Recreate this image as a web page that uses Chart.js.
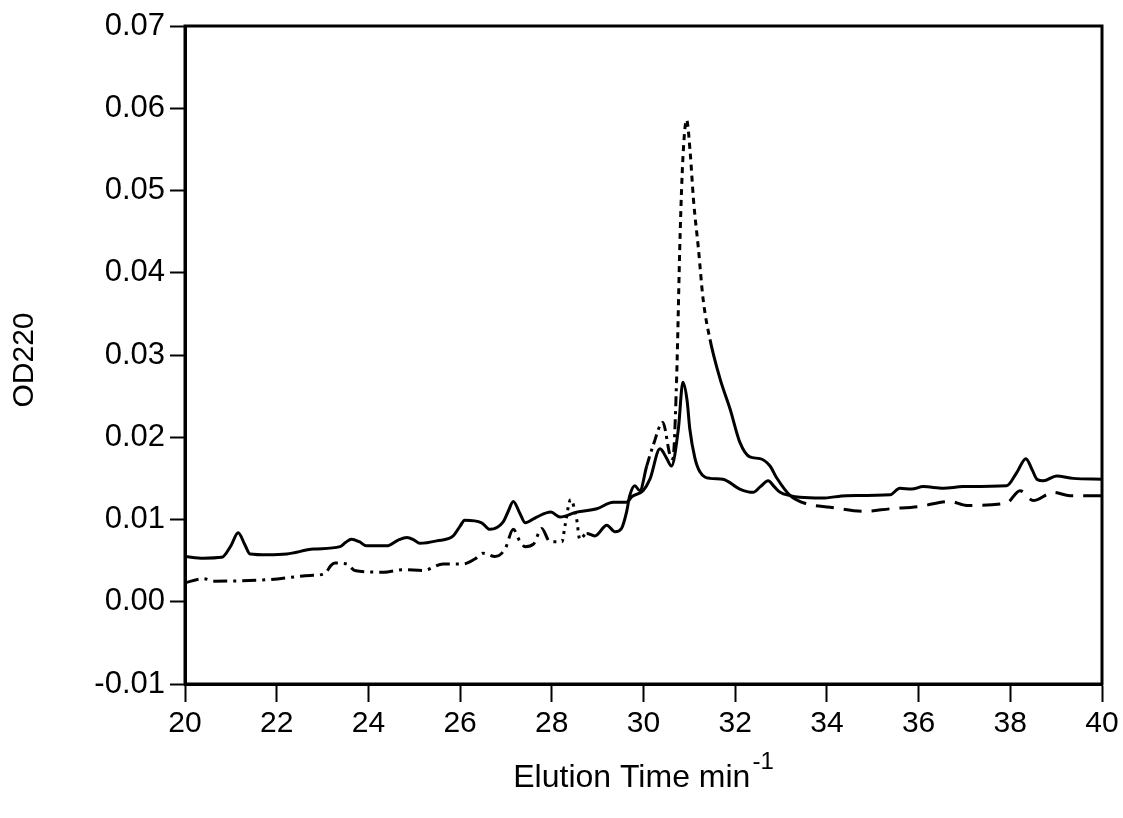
<!DOCTYPE html>
<html>
<head>
<meta charset="utf-8">
<script src="https://cdn.jsdelivr.net/npm/chart.js@4.4.1/dist/chart.umd.min.js"></script>
<style>
  html, body { margin: 0; padding: 0; background: #fff; }
  #wrap { width: 1123px; height: 818px; }
</style>
</head>
<body>
<div id="wrap"><canvas id="elutionChart" width="1123" height="818"></canvas></div>
<script>
// trace A: upper solid curve at the left, solid at the right
const timeA = [
  20.0, 20.4, 20.8, 21.0, 21.16, 21.3, 21.42, 21.8, 22.22, 22.8,
  23.38, 23.5, 23.63, 23.8, 23.96, 24.4, 24.65, 24.84, 25.0, 25.12,
  25.49, 25.85, 26.0, 26.1, 26.47, 26.65, 26.94, 27.05, 27.16, 27.3,
  27.42, 27.67, 27.98, 28.18, 28.54, 28.98, 29.34, 29.63, 29.75, 29.99,
  30.14, 30.36, 30.5, 30.61, 30.76, 30.86, 30.95, 31.01, 31.12, 31.23,
  31.45, 31.73, 32.1, 32.39, 32.55, 32.72, 32.85, 32.98, 33.2, 33.41,
  33.89, 34.43, 35.38, 35.59, 35.85, 36.1, 36.54, 36.97, 37.92, 38.14,
  38.34, 38.48, 38.58, 38.72, 39.01, 39.37, 40.0
];
const odA = [
  0.0055, 0.0053, 0.0054, 0.0068, 0.0084, 0.0070, 0.0058, 0.0057, 0.0058, 0.0064,
  0.0067, 0.0072, 0.0076, 0.0073, 0.0068, 0.0068, 0.0075, 0.0078, 0.0075, 0.0071,
  0.0074, 0.0080, 0.0092, 0.0099, 0.0096, 0.0088, 0.0097, 0.0110, 0.0122, 0.0108,
  0.0096, 0.0103, 0.0109, 0.0103, 0.0109, 0.0113, 0.0121, 0.0121, 0.0128, 0.0135,
  0.0149, 0.0186, 0.0175, 0.0165, 0.0210, 0.0267, 0.0245, 0.0210, 0.0175, 0.0158,
  0.0150, 0.0149, 0.0137, 0.0133, 0.0140, 0.0147, 0.0140, 0.0133, 0.0129, 0.0127,
  0.0126, 0.0129, 0.0130, 0.0138, 0.0137, 0.0140, 0.0138, 0.0140, 0.0141, 0.0157,
  0.0174, 0.0160, 0.0149, 0.0147, 0.0153, 0.0150, 0.0149
];

// trace B: lower dash-dot curve with the big peak near 31 min
const timeB = [
  20.0, 20.4, 20.65, 21.85, 22.73, 23.05, 23.18, 23.27, 23.53, 23.7,
  24.33, 24.75, 25.2, 25.63, 26.07, 26.32, 26.5, 26.76, 26.98, 27.16,
  27.3, 27.42, 27.6, 27.78, 27.96, 28.22, 28.29, 28.41, 28.54, 28.61,
  28.76, 28.94, 29.2, 29.38, 29.52, 29.63, 29.7, 29.81, 29.92, 30.07,
  30.21, 30.42, 30.58, 30.64, 30.72, 30.8, 30.86, 30.94, 31.02, 31.09,
  31.2, 31.3, 31.45, 31.67, 31.89, 32.1, 32.32, 32.54, 32.76, 32.9,
  33.2, 33.56, 34.07, 34.8, 35.38, 36.03, 36.68, 37.05, 37.92, 38.21,
  38.5, 38.94, 39.3, 40.0
];
const odB = [
  0.0023, 0.0028, 0.0025, 0.0027, 0.0032, 0.0034, 0.0044, 0.0047, 0.0046, 0.0038,
  0.0036, 0.0039, 0.0038, 0.0046, 0.0046, 0.0052, 0.0059, 0.0055, 0.0064, 0.0088,
  0.0074, 0.0067, 0.0070, 0.0089, 0.0073, 0.0073, 0.0093, 0.0124, 0.0101, 0.0076,
  0.0083, 0.0080, 0.0093, 0.0085, 0.0089, 0.0109, 0.0129, 0.0141, 0.0135, 0.0165,
  0.0190, 0.0218, 0.0178, 0.0174, 0.0267, 0.0449, 0.0540, 0.0586, 0.0545, 0.0489,
  0.0428, 0.0368, 0.0319, 0.0271, 0.0234, 0.0194, 0.0176, 0.0174, 0.0165, 0.0151,
  0.0129, 0.0119, 0.0115, 0.0110, 0.0113, 0.0116, 0.0122, 0.0117, 0.0120, 0.0135,
  0.0123, 0.0133, 0.0129, 0.0129
];

const xTitle = 'Elution Time min';
const xTitleSup = '-1';
const yTitle = 'OD220';

const FONT = '"Liberation Sans", Arial, Helvetica, sans-serif';

function toPoints(xs, ys) {
  return xs.map((x, i) => ({ x: x, y: ys[i] }));
}

// the plotter changed the pen pattern of trace B along the run
function dashB(ctx) {
  const t = ctx.p0.parsed.x;
  if (t < 28.2) return [14, 6, 3, 6];
  if (t < 28.65) return [3, 5];
  if (t < 29.95) return [];
  if (t < 30.68) return [10, 5, 3, 5];
  if (t < 31.4) return [6, 5];
  if (t < 33.2) return [];
  return [18, 10];
}

const frame = {
  id: 'frame',
  afterDraw(chart) {
    const a = chart.chartArea;
    const c = chart.ctx;
    c.save();
    c.strokeStyle = '#000';
    c.lineWidth = 3;
    c.strokeRect(a.left, a.top, a.right - a.left, a.bottom - a.top);

    // x title with superscript
    c.fillStyle = '#000';
    c.textBaseline = 'alphabetic';
    c.textAlign = 'left';
    c.font = '32px ' + FONT;
    const w1 = c.measureText(xTitle).width;
    c.font = '24px ' + FONT;
    const w2 = c.measureText(xTitleSup).width;
    const x0 = (a.left + a.right) / 2 - (w1 + w2 + 2) / 2;
    c.font = '32px ' + FONT;
    c.fillText(xTitle, x0, 787);
    c.font = '24px ' + FONT;
    c.fillText(xTitleSup, x0 + w1 + 2, 769);

    // y title
    c.translate(25, 360);
    c.rotate(-Math.PI / 2);
    c.textAlign = 'center';
    c.textBaseline = 'middle';
    c.font = '30px ' + FONT;
    c.fillText(yTitle, 0, 0);
    c.restore();
  }
};

const elutionCtx = document.getElementById('elutionChart').getContext('2d');
const elutionChart = new Chart(elutionCtx, {
  type: 'line',
  data: {
    datasets: [{
      label: 'A',
      data: toPoints(timeA, odA),
      borderColor: '#000',
      borderWidth: 3,
      pointRadius: 0,
      fill: false,
      cubicInterpolationMode: 'monotone'
    }, {
      label: 'B',
      data: toPoints(timeB, odB),
      borderColor: '#000',
      borderWidth: 3,
      pointRadius: 0,
      fill: false,
      cubicInterpolationMode: 'monotone',
      segment: { borderDash: dashB }
    }]
  },
  options: {
    responsive: false,
    animation: false,
    devicePixelRatio: 1,
    layout: { padding: { top: 26, right: 21, left: 0, bottom: 0 } },
    plugins: {
      legend: { display: false },
      tooltip: { enabled: false }
    },
    scales: {
      x: {
        type: 'linear',
        min: 20,
        max: 40,
        ticks: {
          stepSize: 2,
          color: '#000',
          padding: 4,
          maxRotation: 0,
          font: { family: FONT, size: 30 }
        },
        grid: { drawOnChartArea: false, tickLength: 18, tickWidth: 2, tickColor: '#000' },
        border: { display: true, width: 3, color: '#000' },
        afterFit(scale) { scale.height = 134; }
      },
      y: {
        min: -0.01,
        max: 0.07,
        ticks: {
          stepSize: 0.01,
          color: '#000',
          padding: 5,
          font: { family: FONT, size: 31 },
          callback: v => v.toFixed(2)
        },
        grid: { drawOnChartArea: false, tickLength: 15, tickWidth: 2, tickColor: '#000' },
        border: { display: true, width: 3, color: '#000' },
        afterFit(scale) { scale.width = 185; }
      }
    }
  },
  plugins: [frame]
});
</script>
</body>
</html>
